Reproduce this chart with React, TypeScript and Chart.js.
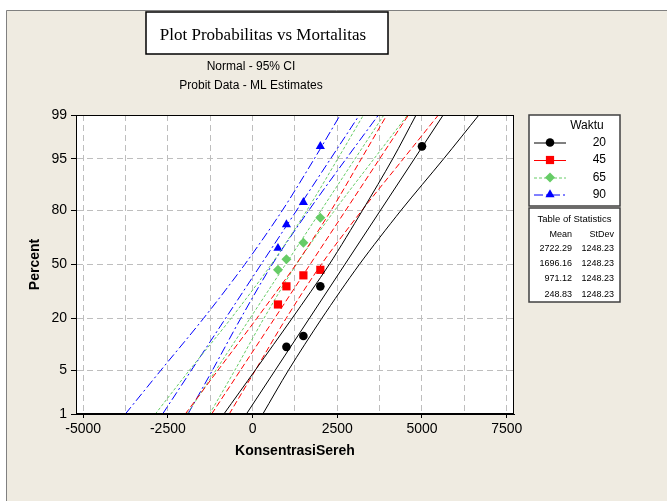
import React, { useEffect, useRef } from 'react';
import { Chart, registerables } from 'chart.js';
Chart.register(...registerables);

// ---- data ----
const seriesNames = ['20', '45', '65', '90'];
const seriesColors = ['#000000', '#FF0000', '#66CC66', '#0000FF'];
const means = [2722.29, 1696.16, 971.12, 248.83];
const stdevs = [1248.23, 1248.23, 1248.23, 1248.23];
const meanLabels = ['2722.29', '1696.16', '971.12', '248.83'];
const stdevLabels = ['1248.23', '1248.23', '1248.23', '1248.23'];

// observed points (x = KonsentrasiSereh, percent)
const x20 = [1000, 1500, 2000, 5000];
const p20 = [10, 13.3, 36.7, 96.7];
const x45 = [750, 1000, 1500, 2000];
const p45 = [26.7, 36.7, 43.3, 46.7];
const x65 = [750, 1000, 1500, 2000];
const p65 = [46.7, 53.3, 63.3, 76.7];
const x90 = [750, 1000, 1500, 2000];
const p90 = [60, 73.3, 83.3, 96.7];

// 95% CI bands read at these percent levels
const ciPercents = [1, 5, 20, 50, 80, 95, 99];
const lower20 = [-846, 79, 1162, 2262, 3243, 4136, 4826];
const upper20 = [303, 1060, 2040, 3150, 4380, 5640, 6680];
const lower45 = [-1985, -1020, 120, 1280, 2317, 3209, 3963];
const upper45 = [-688, 83, 986, 2026, 3227, 4449, 5484];
const lower65 = [-2869, -1862, -639, 551, 1602, 2514, 3273];
const upper65 = [-1269, -522, 331, 1291, 2422, 3584, 4575];
const lower90 = [-3754, -2704, -1452, -231, 879, 1822, 2586];
const upper90 = [-1905, -1184, -352, 579, 1659, 2762, 3715];

// axes
const yTickPercents = [1, 5, 20, 50, 80, 95, 99];
const yTickLabels = ['1', '5', '20', '50', '80', '95', '99'];
const xGridValues = [-5000, -3750, -2500, -1250, 0, 1250, 2500, 3750, 5000, 6250, 7500];
const xLabelValues = [-5000, -2500, 0, 2500, 5000, 7500];

const FONT = "'Liberation Sans', Arial, sans-serif";

function probit(p: number): number {
  const a = [-3.969683028665376e1, 2.209460984245205e2, -2.759285104469687e2, 1.38357751867269e2, -3.066479806614716e1, 2.506628277459239];
  const b = [-5.447609879822406e1, 1.615858368580409e2, -1.556989798598866e2, 6.680131188771972e1, -1.328068155288572e1];
  const c = [-7.784894002430293e-3, -3.223964580411365e-1, -2.400758277161838, -2.549732539343734, 4.374664141464968, 2.938163982698783];
  const d = [7.784695709041462e-3, 3.224671290700398e-1, 2.445134137142996, 3.754408661907416];
  const pl = 0.02425;
  let q: number, r: number;
  if (p < pl) {
    q = Math.sqrt(-2 * Math.log(p));
    return (((((c[0] * q + c[1]) * q + c[2]) * q + c[3]) * q + c[4]) * q + c[5]) / ((((d[0] * q + d[1]) * q + d[2]) * q + d[3]) * q + 1);
  }
  if (p <= 1 - pl) {
    q = p - 0.5; r = q * q;
    return ((((((a[0] * r + a[1]) * r + a[2]) * r + a[3]) * r + a[4]) * r + a[5]) * q) / (((((b[0] * r + b[1]) * r + b[2]) * r + b[3]) * r + b[4]) * r + 1);
  }
  q = Math.sqrt(-2 * Math.log(1 - p));
  return -(((((c[0] * q + c[1]) * q + c[2]) * q + c[3]) * q + c[4]) * q + c[5]) / ((((d[0] * q + d[1]) * q + d[2]) * q + d[3]) * q + 1);
}

const zMin = probit(0.01);
const zMax = probit(0.99);

const pointXs = [x20, x45, x65, x90];
const pointPs = [p20, p45, p65, p90];
const lowers = [lower20, lower45, lower65, lower90];
const uppers = [upper20, upper45, upper65, upper90];
const pointStyles = ['circle', 'rect', 'rectRot', 'triangle'];
const pointRadii = [4.3, 5.8, 5, 5.3];
const dashes: number[][] = [[], [6, 3], [3, 2], [9, 3, 2, 3]];

function drawMarker(ctx: CanvasRenderingContext2D, style: string, x: number, y: number, r: number, color: string) {
  ctx.save();
  ctx.fillStyle = color;
  ctx.beginPath();
  if (style === 'circle') {
    ctx.arc(x, y, r, 0, Math.PI * 2);
  } else if (style === 'rect') {
    const s = r * Math.SQRT1_2;
    ctx.rect(x - s, y - s, 2 * s, 2 * s);
  } else if (style === 'rectRot') {
    ctx.moveTo(x - r, y); ctx.lineTo(x, y - r); ctx.lineTo(x + r, y); ctx.lineTo(x, y + r); ctx.closePath();
  } else {
    ctx.moveTo(x, y - r);
    ctx.lineTo(x + r * Math.sin(Math.PI * 2 / 3), y - r * Math.cos(Math.PI * 2 / 3));
    ctx.lineTo(x + r * Math.sin(Math.PI * 4 / 3), y - r * Math.cos(Math.PI * 4 / 3));
    ctx.closePath();
  }
  ctx.fill();
  ctx.restore();
}

const decorPlugin = {
  id: 'decor',
  beforeDraw(chart: any) {
    const { ctx, chartArea: a, width: w, height: h } = chart;
    ctx.save();
    ctx.fillStyle = '#ffffff';
    ctx.fillRect(0, 0, w, h);
    ctx.fillStyle = '#EFEBE1';
    ctx.fillRect(6, 10, w - 6, h - 10);
    ctx.strokeStyle = '#808080';
    ctx.lineWidth = 1;
    ctx.beginPath();
    ctx.moveTo(6.5, h); ctx.lineTo(6.5, 10.5); ctx.lineTo(w, 10.5);
    ctx.stroke();
    // plot background
    ctx.fillStyle = '#ffffff';
    ctx.fillRect(a.left, a.top, a.right - a.left, a.bottom - a.top);
    // title box
    ctx.fillStyle = '#ffffff';
    ctx.fillRect(146, 12, 242, 42);
    ctx.strokeStyle = '#000000';
    ctx.lineWidth = 1.5;
    ctx.strokeRect(146, 12, 242, 42);
    ctx.fillStyle = '#000';
    ctx.textAlign = 'center';
    ctx.textBaseline = 'alphabetic';
    ctx.font = "17px 'Liberation Serif', 'Times New Roman', serif";
    ctx.fillText('Plot Probabilitas vs Mortalitas', 263, 40);
    ctx.font = `12px ${FONT}`;
    ctx.textBaseline = 'middle';
    ctx.fillText('Normal - 95% CI', 251, 67);
    ctx.fillText('Probit Data - ML Estimates', 251, 86);
    ctx.restore();
  },
  afterDraw(chart: any) {
    const { ctx, chartArea: a } = chart;
    ctx.save();
    ctx.strokeStyle = '#000';
    ctx.lineWidth = 1;
    ctx.strokeRect(Math.round(a.left) + 0.5, Math.round(a.top) + 0.5, Math.round(a.right - a.left) - 1, Math.round(a.bottom - a.top) - 1);

    // legend box
    ctx.fillStyle = '#fff';
    ctx.fillRect(529, 115, 91, 91);
    ctx.strokeStyle = '#404040';
    ctx.lineWidth = 1.5;
    ctx.strokeRect(529, 115, 91, 91);
    ctx.fillStyle = '#000';
    ctx.font = `12px ${FONT}`;
    ctx.textAlign = 'center';
    ctx.textBaseline = 'middle';
    ctx.fillText('Waktu', 587, 126);
    const ys = [142.5, 160, 177.5, 194.5];
    for (let i = 0; i < 4; i++) {
      ctx.save();
      ctx.strokeStyle = seriesColors[i];
      ctx.lineWidth = 1;
      ctx.setLineDash(i === 1 ? [] : dashes[i]);
      ctx.beginPath();
      ctx.moveTo(534, ys[i] + 0.5);
      ctx.lineTo(566, ys[i] + 0.5);
      ctx.stroke();
      ctx.restore();
      drawMarker(ctx, pointStyles[i], 550, ys[i], pointRadii[i], seriesColors[i]);
      ctx.fillStyle = '#000';
      ctx.textAlign = 'right';
      ctx.font = `12px ${FONT}`;
      ctx.fillText(seriesNames[i], 606, ys[i]);
    }

    // statistics table
    ctx.fillStyle = '#fff';
    ctx.fillRect(529, 208, 91, 94);
    ctx.strokeStyle = '#404040';
    ctx.lineWidth = 1.5;
    ctx.strokeRect(529, 208, 91, 94);
    ctx.fillStyle = '#000';
    ctx.font = `9.5px ${FONT}`;
    ctx.textAlign = 'center';
    ctx.fillText('Table of Statistics', 574.5, 219.5);
    ctx.font = `9px ${FONT}`;
    ctx.textAlign = 'right';
    ctx.fillText('Mean', 572, 234.5);
    ctx.fillText('StDev', 614, 234.5);
    for (let i = 0; i < 4; i++) {
      const y = 248.5 + i * 15.2;
      ctx.fillText(meanLabels[i], 572, y);
      ctx.fillText(stdevLabels[i], 614, y);
    }
    ctx.restore();
  },
};

export default function App() {
  const ref = useRef<HTMLCanvasElement | null>(null);
  useEffect(() => {
    if (!ref.current) return;
    const datasets: any[] = [];
    for (let i = 0; i < 4; i++) {
      const color = seriesColors[i];
      const lineBase = {
        showLine: true,
        pointRadius: 0,
        pointHoverRadius: 0,
        borderColor: color,
        backgroundColor: color,
        borderWidth: 1,
        borderDash: dashes[i],
        fill: false,
      };
      datasets.push({
        ...lineBase,
        label: seriesNames[i] + ' fit',
        data: [
          { x: means[i] + stdevs[i] * zMin, y: zMin },
          { x: means[i] + stdevs[i] * zMax, y: zMax },
        ],
        tension: 0,
      });
      datasets.push({
        ...lineBase,
        label: seriesNames[i] + ' lower',
        data: ciPercents.map((p, j) => ({ x: lowers[i][j], y: probit(p / 100) })),
        tension: 0.3,
      });
      datasets.push({
        ...lineBase,
        label: seriesNames[i] + ' upper',
        data: ciPercents.map((p, j) => ({ x: uppers[i][j], y: probit(p / 100) })),
        tension: 0.3,
      });
      datasets.push({
        label: seriesNames[i],
        showLine: false,
        data: pointXs[i].map((x, j) => ({ x, y: probit(pointPs[i][j] / 100) })),
        pointStyle: pointStyles[i],
        pointRadius: pointRadii[i],
        pointHoverRadius: pointRadii[i],
        pointBorderWidth: 0,
        backgroundColor: color,
        borderColor: color,
      });
    }
    const chart = new Chart(ref.current, {
      type: 'scatter',
      data: { datasets },
      plugins: [decorPlugin],
      options: {
        animation: false,
        responsive: false,
        devicePixelRatio: 1,
        layout: { padding: { left: 0, top: 115, right: 153, bottom: 0 } },
        plugins: { legend: { display: false }, title: { display: false }, tooltip: { enabled: false } },
        scales: {
          x: {
            type: 'linear',
            min: -5210,
            max: 7715,
            afterBuildTicks: (s: any) => {
              s.ticks = xGridValues.map((v) => ({ value: v }));
            },
            afterFit: (s: any) => {
              s.height = 87;
            },
            ticks: {
              autoSkip: false,
              maxRotation: 0,
              padding: 3,
              color: '#000',
              font: { size: 14, family: FONT },
              callback: (v: any) => (xLabelValues.includes(Number(v)) ? String(v) : ''),
            },
            grid: {
              color: '#BEBEBE',
              lineWidth: 1,
              tickLength: 4,
              tickColor: (c: any) => (c.tick && xLabelValues.includes(c.tick.value) ? '#000' : 'rgba(0,0,0,0)'),
            },
            border: { display: true, color: '#000', width: 1, dash: [6, 4] },
            title: {
              display: true,
              text: 'KonsentrasiSereh',
              color: '#000',
              font: { size: 14, weight: 'bold', family: FONT },
              padding: { top: 0, bottom: 41 },
            },
          },
          y: {
            type: 'linear',
            min: zMin,
            max: zMax,
            afterBuildTicks: (s: any) => {
              s.ticks = yTickPercents.map((p) => ({ value: probit(p / 100) }));
            },
            afterFit: (s: any) => {
              s.width = 76;
            },
            ticks: {
              autoSkip: false,
              padding: 4,
              color: '#000',
              font: { size: 14, family: FONT },
              callback: (_v: any, i: number) => yTickLabels[i],
            },
            grid: {
              color: (c: any) => (c.index === 0 || c.index === yTickPercents.length - 1 ? 'rgba(0,0,0,0)' : '#BEBEBE'),
              lineWidth: 1,
              tickLength: 5,
              tickColor: '#000',
            },
            border: { display: true, color: '#000', width: 1, dash: [6, 4] },
            title: {
              display: true,
              text: 'Percent',
              color: '#000',
              font: { size: 14, weight: 'bold', family: FONT },
              padding: { top: 27, bottom: 0 },
            },
          },
        },
      } as any,
    });
    return () => chart.destroy();
  }, []);
  return (
    <div style={{ position: 'absolute', left: 0, top: 0, width: 667, height: 501 }}>
      <canvas ref={ref} width={667} height={501} style={{ width: 667, height: 501, display: 'block' }} />
    </div>
  );
}
